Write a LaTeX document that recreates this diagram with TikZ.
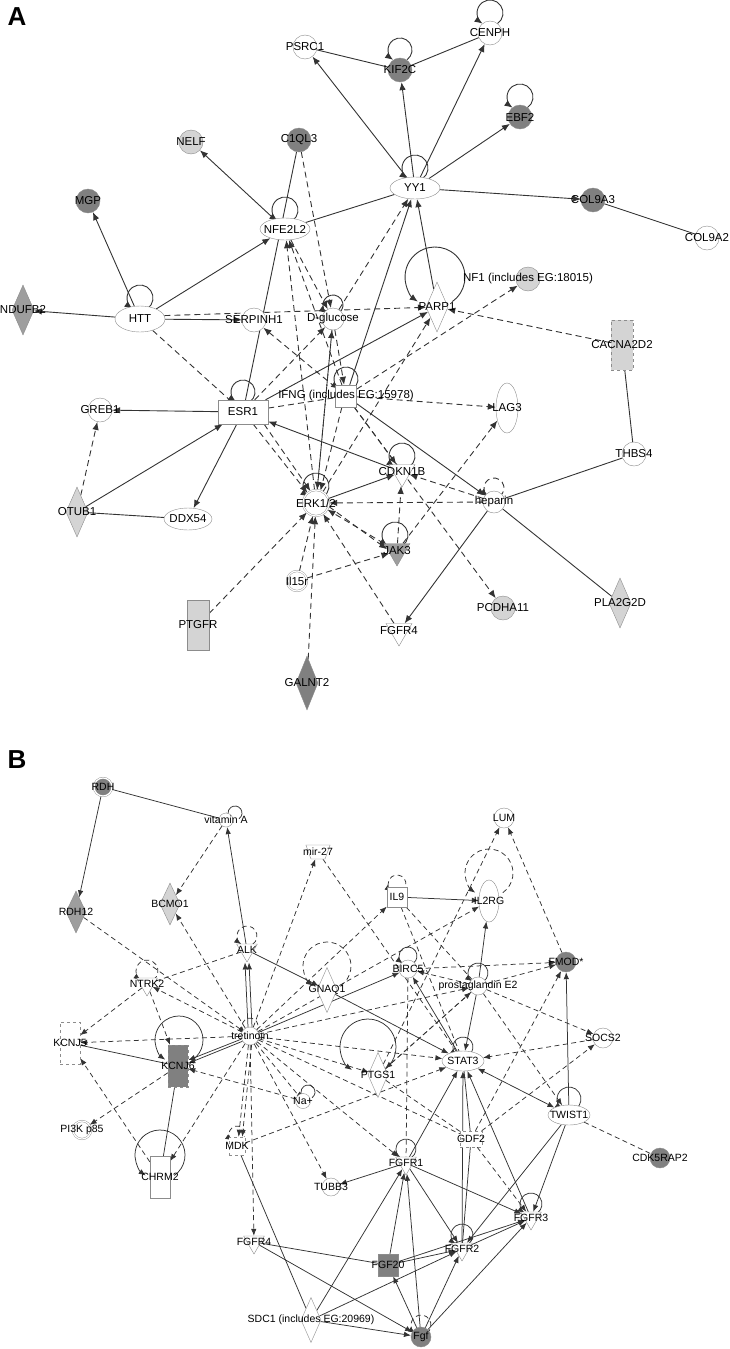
\documentclass[tikz,border=0pt]{standalone}
\usepackage{fontspec}
\setmainfont{Liberation Sans}
\usepackage{tikz}
\usetikzlibrary{shapes.geometric, arrows.meta, calc}
\definecolor{dkgrey}{gray}{0.5}
\definecolor{mdgrey}{gray}{0.62}
\definecolor{ltgrey}{gray}{0.83}
\pgfdeclarelayer{edges}
\pgfsetlayers{edges,main}
% panel A connectors
\tikzstyle{line} = [draw=black!80, line width=0.9pt, -{Latex[length=8pt,width=6.5pt]}]
\tikzstyle{plain} = [draw=black!80, line width=0.9pt]
\tikzstyle{dline} = [line, dash pattern=on 6pt off 4pt]
\tikzstyle{dplain} = [plain, dash pattern=on 6pt off 4pt]
% panel B connectors
\tikzstyle{bline} = [draw=black!80, line width=0.75pt, -{Latex[length=7pt,width=5.5pt]}]
\tikzstyle{bplain} = [draw=black!80, line width=0.75pt]
\tikzstyle{bdline} = [bline, dash pattern=on 5pt off 3.5pt]
\tikzstyle{bdplain} = [bplain, dash pattern=on 5pt off 3.5pt]
% molecules
\tikzstyle{lblA} = [font=\fontsize{11.5}{12}\selectfont, inner sep=0pt]
\tikzstyle{lblB} = [font=\fontsize{10.5}{11}\selectfont, inner sep=0pt]
\tikzstyle{mol} = [circle, draw=black!45, fill=white, minimum size=24pt, inner sep=0pt]
\tikzstyle{dmol} = [mol, double=white, double distance=1.2pt]
\tikzstyle{oval} = [ellipse, draw=black!45, fill=white, minimum width=50pt, minimum height=22pt, inner sep=0pt]
\tikzstyle{kite} = [diamond, aspect=1, draw=black!45, fill=white, minimum width=22pt, minimum height=50pt, inner sep=0pt]
\tikzstyle{box} = [rectangle, draw=black!45, fill=white, minimum width=50pt, minimum height=24pt, inner sep=0pt]
\tikzstyle{vee} = [regular polygon, regular polygon sides=3, shape border rotate=180, draw=black!45, fill=white, minimum size=30pt, inner sep=0pt]
\newcommand{\selfloop}[5][line]{%
  \draw[#1] ($(#2)+(#4+0.574*#3,#5-0.819*#3)$) arc[start angle=-55,end angle=235,radius=#3pt];}

\begin{document}
\begin{tikzpicture}[x=1pt, y=1pt]
  \useasboundingbox (0,0) rectangle (730,-1349);
  \node[font=\bfseries\fontsize{26}{26}\selectfont] (panA) at (17,-17) {A};
  \node[font=\bfseries\fontsize{26}{26}\selectfont] (panB) at (17,-760) {B};

  % ---------------- A ----------------
  \node[mol, label={[lblA]center:PSRC1}] (psrc1) at (305,-47) {};
  \node[mol, fill=dkgrey, label={[lblA]center:KIF2C}] (kif2c) at (400,-70) {};
  \node[mol, label={[lblA]center:CENPH}] (cenph) at (490,-33) {};
  \node[mol, fill=dkgrey, label={[lblA]center:EBF2}] (ebf2) at (520,-117) {};
  \node[mol, fill=ltgrey, label={[lblA]center:NELF}] (nelf) at (191,-142) {};
  \node[mol, fill=dkgrey, label={[lblA]center:C1QL3}] (c1ql3) at (299,-140) {};
  \node[mol, fill=dkgrey, label={[lblA]center:MGP}] (mgp) at (88,-201) {};
  \node[oval, label={[lblA]center:YY1}] (yy1) at (415,-188) {};
  \node[mol, fill=dkgrey, label={[lblA]center:COL9A3}] (col9a3) at (593,-200) {};
  \node[mol, label={[lblA]center:COL9A2}] (col9a2) at (707,-238) {};
  \node[oval, label={[lblA]center:NFE2L2}] (nfe2l2) at (285,-229) {};
  \node[mol, fill=ltgrey, label={[lblA]center:{NF1 (includes EG:18015)}}] (nf1) at (528,-279) {};
  \node[kite, label={[lblA]center:PARP1}] (parp1) at (437,-307) {};
  \node[kite, fill=mdgrey, label={[lblA]center:NDUFB2}] (ndufb2) at (23,-310) {};
  \node[oval, minimum height=26pt, label={[lblA]center:HTT}] (htt) at (140,-319) {};
  \node[mol, label={[lblA]center:SERPINH1}] (serpinh1) at (254,-320) {};
  \node[mol, minimum size=22pt, label={[lblA]center:D-glucose}] (dglc) at (333,-319) {};
  \node[box, fill=ltgrey, dashed, minimum width=22pt, minimum height=50pt, label={[lblA]center:CACNA2D2}] (cacna2d2) at (622,-345) {};
  \node[box, label={[lblA]center:ESR1}] (esr1) at (243,-412) {};
  \node[box, minimum width=21pt, minimum height=22pt, label={[lblA]center:{IFNG (includes EG:15978)}}] (ifng) at (346,-396) {};
  \node[mol, label={[lblA]center:GREB1}] (greb1) at (100,-410) {};
  \node[oval, minimum width=22pt, minimum height=50pt, label={[lblA]center:LAG3}] (lag3) at (507,-408) {};
  \node[vee, label={[lblA]center:CDKN1B}] (cdkn1b) at (402,-472) {};
  \node[mol, label={[lblA]center:THBS4}] (thbs4) at (634,-454) {};
  \node[dmol, minimum size=26pt, label={[lblA]center:ERK1/2}] (erk) at (316,-503) {};
  \node[kite, fill=ltgrey, label={[lblA]center:OTUB1}] (otub1) at (77,-512) {};
  \node[oval, minimum width=48pt, label={[lblA]center:DDX54}] (ddx54) at (188,-519) {};
  \node[mol, minimum size=22pt, label={[lblA]center:heparin}] (heparin) at (494,-502) {};
  \node[vee, fill=mdgrey, label={[lblA]center:JAK3}] (jak3) at (397,-551) {};
  \node[dmol, minimum size=20pt, label={[lblA]center:Il15r}] (il15r) at (297,-581) {};
  \node[box, fill=ltgrey, minimum width=22pt, minimum height=50pt, label={[lblA]center:PTGFR}] (ptgfr) at (198,-625) {};
  \node[vee, label={[lblA]center:FGFR4}] (fgfr4a) at (399,-631) {};
  \node[mol, fill=ltgrey, label={[lblA]center:PCDHA11}] (pcdha11) at (503,-608) {};
  \node[kite, fill=ltgrey, label={[lblA]center:PLA2G2D}] (pla2g2d) at (620,-603) {};
  \node[kite, fill=dkgrey, minimum height=54pt, label={[lblA]center:GALNT2}] (galnt2) at (307,-683) {};

  % ---------------- B ----------------
  \node[dmol, fill=dkgrey, minimum size=18pt, label={[lblB]center:RDH}] (rdh) at (103,-787) {};
  \node[mol, minimum size=14pt, label={[lblB]center:vitamin A}] (vita) at (226,-820) {};
  \node[trapezium, trapezium angle=70, shape border rotate=180, draw=black!45, fill=white, minimum width=20pt, minimum height=14pt, inner sep=3pt, label={[lblB]center:mir-27}] (mir27) at (318,-852) {};
  \node[mol, minimum size=20pt, label={[lblB]center:LUM}] (lum) at (504,-818) {};
  \node[kite, fill=mdgrey, minimum width=20pt, minimum height=42pt, label={[lblB]center:RDH12}] (rdh12) at (76,-912) {};
  \node[kite, fill=ltgrey, minimum width=20pt, minimum height=42pt, label={[lblB]center:BCMO1}] (bcmo1) at (170,-904) {};
  \node[box, minimum width=20pt, minimum height=20pt, label={[lblB]center:IL9}] (il9) at (397,-897) {};
  \node[oval, minimum width=20pt, minimum height=42pt, label={[lblB]center:IL2RG}] (il2rg) at (489,-901) {};
  \node[vee, minimum size=24pt, label={[lblB]center:ALK}] (alk) at (247,-950) {};
  \node[vee, minimum size=24pt, label={[lblB]center:NTRK2}] (ntrk2) at (147,-984) {};
  \node[kite, minimum width=20pt, minimum height=45pt, label={[lblB]center:GNAQ1}] (gnaq1) at (327,-990) {};
  \node[mol, minimum size=18pt, label={[lblB]center:BIRC5}] (birc5) at (408,-969) {};
  \node[mol, minimum size=18pt, label={[lblB]center:prostaglandin E2}] (pge2) at (478,-986) {};
  \node[mol, fill=dkgrey, minimum size=20pt, label={[lblB]center:FMOD*}] (fmod) at (566,-962) {};
  \node[mol, minimum size=18pt, label={[lblB]center:tretinoin}] (tret) at (250,-1036) {};
  \node[box, dashed, minimum width=20pt, minimum height=42pt, label={[lblB]center:KCNJ5}] (kcnj5) at (70,-1043) {};
  \node[box, dashed, fill=dkgrey, minimum width=20pt, minimum height=42pt, label={[lblB]center:KCNJ6}] (kcnj6) at (178,-1066) {};
  \node[mol, minimum size=20pt, label={[lblB]center:SOCS2}] (socs2) at (603,-1038) {};
  \node[oval, minimum width=42pt, minimum height=20pt, label={[lblB]center:STAT3}] (stat3) at (463,-1061) {};
  \node[kite, minimum width=20pt, minimum height=45pt, label={[lblB]center:PTGS1}] (ptgs1) at (378,-1075) {};
  \node[mol, minimum size=15pt, label={[lblB]center:Na+}] (na) at (303,-1101) {};
  \node[oval, minimum width=42pt, minimum height=20pt, label={[lblB]center:TWIST1}] (twist1) at (569,-1115) {};
  \node[dmol, minimum size=18pt, label={[lblB]center:PI3K p85}] (pi3k) at (82,-1130) {};
  \node[box, dashed, minimum width=16pt, minimum height=18pt, label={[lblB]center:MDK}] (mdk) at (237,-1146) {};
  \node[box, dashed, minimum width=22pt, minimum height=16pt, label={[lblB]center:GDF2}] (gdf2) at (471,-1139) {};
  \node[box, minimum width=20pt, minimum height=42pt, label={[lblB]center:CHRM2}] (chrm2) at (160,-1177) {};
  \node[mol, fill=dkgrey, minimum size=20pt, label={[lblB]center:CDK5RAP2}] (cdk5rap2) at (660,-1158) {};
  \node[vee, minimum size=24pt, label={[lblB]center:FGFR1}] (fgfr1) at (406,-1163) {};
  \node[mol, minimum size=18pt, label={[lblB]center:TUBB3}] (tubb3) at (331,-1187) {};
  \node[vee, minimum size=24pt, label={[lblB]center:FGFR3}] (fgfr3) at (531,-1218) {};
  \node[vee, minimum size=24pt, label={[lblB]center:FGFR4}] (fgfr4b) at (254,-1242) {};
  \node[vee, minimum size=24pt, label={[lblB]center:FGFR2}] (fgfr2) at (462,-1249) {};
  \node[box, fill=dkgrey, minimum width=20pt, minimum height=22pt, label={[lblB]center:FGF20}] (fgf20) at (388,-1265) {};
  \node[kite, minimum width=20pt, minimum height=45pt, label={[lblB]center:{SDC1 (includes EG:20969)}}] (sdc1) at (311,-1320) {};
  \node[mol, fill=dkgrey, minimum size=20pt, label={[lblB]center:Fgf}] (fgf) at (421,-1337) {};

  \begin{pgfonlayer}{edges}
  % A connectors
  \draw[line] (yy1) -- (psrc1);
  \draw[plain] (psrc1) -- (kif2c);
  \draw[line] (yy1) -- (kif2c);
  \draw[line] (yy1) -- (cenph);
  \draw[plain] (kif2c) -- (cenph);
  \draw[line] (yy1) -- (ebf2);
  \draw[line] (yy1) -- (col9a3);
  \draw[plain] (col9a3) -- (col9a2);
  \draw[line] (nfe2l2) -- (nelf);
  \draw[plain] (c1ql3) -- (esr1);
  \draw[dline] (c1ql3) -- (dglc);
  \draw[plain] (nfe2l2) -- (yy1);
  \draw[line] (htt) -- (nfe2l2);
  \draw[line] (htt) -- (mgp);
  \draw[line] (htt) -- (ndufb2);
  \draw[line] (htt) -- (serpinh1);
  \draw[dline] (htt.8) -- (parp1);
  \draw[dplain] (htt) -- (esr1);
  \draw[line] (esr1) -- (greb1);
  \draw[dline] (otub1) -- (greb1);
  \draw[line] (otub1) -- (esr1);
  \draw[plain] (otub1) -- (ddx54);
  \draw[line] (esr1) -- (ddx54);
  \draw[dline] (esr1.-50) -- (erk.130);
  \draw[dline] (esr1.-30) -- (erk.115);
  \draw[line] (esr1) -- (parp1);
  \draw[dline] (esr1) -- (dglc);
  \draw[dplain] (esr1) -- (ifng);
  \draw[dline] (ifng) -- (lag3);
  \draw[line] (cdkn1b) -- (esr1);
  \draw[dline] (ifng) -- (serpinh1);
  \draw[dline] (erk) -- (nfe2l2);
  \draw[dline] (ifng) -- (nfe2l2);
  \draw[dline] (nfe2l2) -- (dglc);
  \draw[dline] (dglc) -- (yy1);
  \draw[line] (ifng) -- (yy1);
  \draw[line] (parp1) -- (yy1);
  \draw[dline] (cacna2d2) -- (parp1);
  \draw[plain] (cacna2d2) -- (thbs4);
  \draw[plain] (thbs4) -- (heparin);
  \draw[plain] (heparin) -- (pla2g2d);
  \draw[line] (heparin) -- (fgfr4a);
  \draw[dline] (heparin) -- (erk);
  \draw[dline] (heparin) -- (cdkn1b);
  \draw[line] (ifng) -- (heparin);
  \draw[dline] (ifng.-110) -- (erk.70);
  \draw[dline] (ifng) -- (cdkn1b);
  \draw[dline] (erk) -- (dglc);
  \draw[dline] (dglc) -- (ifng);
  \draw[dline] (dglc) -- (erk.85);
  \draw[line] (erk) -- (cdkn1b);
  \draw[dline] (jak3.150) -- (erk.-30);
  \draw[dline] (erk.-15) -- (jak3.170);
  \draw[dline] (il15r) -- (jak3);
  \draw[dline] (il15r) -- (erk);
  \draw[dline] (ptgfr) -- (erk);
  \draw[dline] (galnt2) -- (erk);
  \draw[dline] (fgfr4a) -- (erk);
  \draw[dline] (jak3) -- (lag3);
  \draw[dline] (ifng) -- (pcdha11);
  \draw[dline] (jak3) -- (cdkn1b);
  \draw[dline] (ifng) -- (nf1);
  \draw[dline] (erk) -- (parp1);
  \selfloop{kif2c}{12}{0}{20}
  \selfloop{cenph}{13}{0}{20}
  \selfloop{ebf2}{13}{0}{20}
  \selfloop{yy1}{13}{0}{20}
  \selfloop{nfe2l2}{13}{0}{19}
  \selfloop{htt}{13}{0}{21}
  \selfloop{dglc}{10}{0}{14}
  \selfloop{parp1}{30}{-2}{30}
  \selfloop{esr1}{12}{0}{20}
  \selfloop{ifng}{12}{0}{17}
  \selfloop{erk}{13}{0}{17}
  \selfloop{cdkn1b}{13}{0}{16}
  \selfloop{jak3}{13}{-2}{16}
  \selfloop[dline]{heparin}{10}{0}{14}

  % B connectors
  \draw[bline] (rdh) -- (rdh12);
  \draw[bplain] (rdh) -- (vita);
  \draw[bdline] (vita) -- (bcmo1);
  \draw[bline] (alk) -- (vita);
  \draw[bdline] (tret) -- (mir27);
  \draw[bdplain] (mir27) -- (stat3);
  \draw[bdplain] (rdh12) -- (tret);
  \draw[bdline] (tret) -- (bcmo1);
  \draw[bdline] (tret) -- (il9);
  \draw[bline] (il9) -- (il2rg);
  \draw[bdline] (ptgs1) -- (lum);
  \draw[bdline] (fmod) -- (lum);
  \draw[bline] (pge2) -- (il2rg);
  \draw[bdline] (tret) -- (il2rg);
  \draw[bdplain] (il9) -- (pge2);
  \draw[bdplain] (il9) -- (stat3);
  \draw[bline] (tret) -- (birc5);
  \draw[bdline] (birc5) -- (fmod);
  \draw[bdline] (pge2) -- (fmod);
  \draw[bdline] (pge2) -- (socs2);
  \draw[bline] (pge2) -- (stat3);
  \draw[bdline] (pge2) -- (birc5);
  \draw[bline] (stat3) -- (birc5);
  \draw[bdline] (socs2) -- (stat3);
  \draw[bline, {Latex[length=7pt,width=5.5pt]}-{Latex[length=7pt,width=5.5pt]}] (stat3) -- (twist1);
  \draw[bline] (twist1) -- (fmod);
  \draw[bdline] (gdf2) -- (socs2);
  \draw[bdline] (gdf2) -- (fmod);
  \draw[bdline] (pge2) -- (twist1);
  \draw[bdplain] (twist1) -- (cdk5rap2);
  \draw[bline] (twist1) -- (fgfr3);
  \draw[bline] (twist1) -- (fgfr2);
  \draw[bplain] (stat3) -- (gdf2);
  \draw[bline] (fgfr1) -- (stat3);
  \draw[bline] (fgfr2) -- (stat3);
  \draw[bline] (fgfr3) -- (stat3);
  \draw[bdline] (tret) -- (stat3);
  \draw[bline] (alk) -- (gnaq1);
  \draw[bline] (gnaq1) -- (stat3);
  \draw[bline] ([xshift=-2pt]tret.north) -- ([xshift=-2pt]alk.south);
  \draw[bline] ([xshift=2pt]tret.north) -- ([xshift=2pt]alk.south);
  \draw[bdline] (tret) -- (ntrk2);
  \draw[bdplain] (alk) -- (ntrk2);
  \draw[bdline] (ntrk2) -- (kcnj5);
  \draw[bdline] (ntrk2) -- (kcnj6);
  \draw[bdline] (tret) -- (kcnj5);
  \draw[bplain] (kcnj5) -- (kcnj6);
  \draw[bline] (tret.200) -- (kcnj6.30);
  \draw[bline] (tret.215) -- (kcnj6.15);
  \draw[bdline] (na) -- (kcnj6);
  \draw[bdline] (kcnj6) -- (pi3k);
  \draw[bdline] (chrm2) -- (kcnj5);
  \draw[bplain] (kcnj6) -- (chrm2);
  \draw[bdline] (tret) -- (chrm2);
  \draw[bdline] (tret.-100) -- (mdk.80);
  \draw[bdline] (tret.-80) -- (mdk.60);
  \draw[bdline] (tret) -- (fgfr4b);
  \draw[bdline] (tret) -- (tubb3);
  \draw[bdline] (tret) -- (fgfr1);
  \draw[bdplain] (tret) -- (gdf2);
  \draw[bdline] (tret) -- (ptgs1);
  \draw[bdplain] (tret) -- (na);
  \draw[bdline] (tret) -- (pge2);
  \draw[bline] (fgfr1) -- (tubb3);
  \draw[bplain] (mdk) -- (sdc1);
  \draw[bdline] (mdk) -- (stat3);
  \draw[bplain] (fgfr4b) -- (fgf20);
  \draw[bline] (fgfr4b) -- (fgf);
  \draw[bline] (fgf20) -- (fgfr1);
  \draw[bline] (fgf20) -- (fgfr2);
  \draw[bline] (fgf20) -- (fgfr3);
  \draw[bline] (sdc1) -- (fgfr1);
  \draw[bline] (sdc1) -- (fgfr2);
  \draw[bline] (sdc1) -- (fgf);
  \draw[bline] (fgf) -- (fgfr1);
  \draw[bline] (fgf) -- (fgfr2);
  \draw[bline] (fgf) -- (fgfr3);
  \draw[bline] (fgf) -- (fgf20);
  \draw[bline] (fgfr1) -- (fgfr3);
  \draw[bline] (fgfr1) -- (fgfr2);
  \draw[bline] (fgfr2) -- (fgfr3);
  \draw[bdline] (gdf2) -- (fgfr3);
  \draw[bplain] (gdf2) -- (fgfr2);
  \draw[bdline] (ptgs1) -- (pge2);
  \draw[bdplain] (ptgs1) -- (gdf2);
  \draw[bdline] (pge2) -- (ptgs1);
  \draw[bdplain] (birc5) -- (fgfr1);
  \selfloop[bline]{vita}{7}{9}{7}
  \selfloop[bdline]{alk}{10}{0}{14}
  \selfloop[bdline]{ntrk2}{11}{0}{13}
  \selfloop[bdline]{gnaq1}{24}{0}{24}
  \selfloop[bdline]{il9}{9}{0}{13}
  \selfloop[bdline]{il2rg}{24}{0}{28}
  \selfloop[bline]{birc5}{9}{0}{13}
  \selfloop[bline]{pge2}{10}{0}{13}
  \selfloop[bline]{stat3}{10}{0}{14}
  \selfloop[bline]{twist1}{12}{0}{16}
  \selfloop[bline]{kcnj6}{24}{1}{26}
  \selfloop[bline]{ptgs1}{28}{-10}{28}
  \selfloop[bline]{chrm2}{25}{0}{22}
  \selfloop[bline]{fgfr1}{10}{0}{14}
  \selfloop[bline]{fgfr3}{11}{0}{14}
  \selfloop[bline]{fgfr2}{11}{0}{14}
  \selfloop[bdline]{fgf}{10}{0}{12}
  \selfloop[bdline]{mdk}{8}{0}{12}
  \selfloop[bline]{na}{7}{5}{9}
  \selfloop[bdline]{tret}{8}{0}{10}
  \end{pgfonlayer}
\end{tikzpicture}
\end{document}
